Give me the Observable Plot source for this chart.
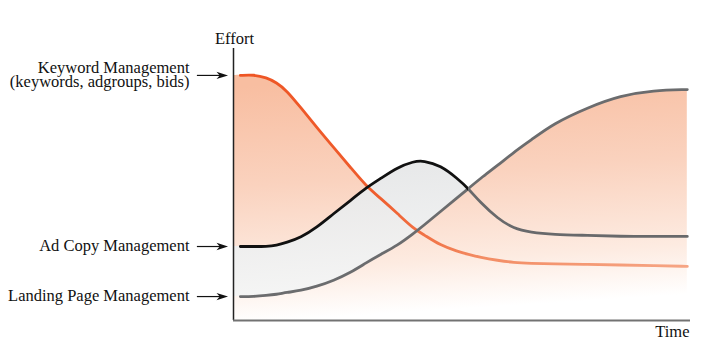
<!DOCTYPE html>
<html>
<head>
<meta charset="utf-8">
<script src="https://cdn.jsdelivr.net/npm/d3@7"></script>
<script src="https://cdn.jsdelivr.net/npm/@observablehq/plot@0.6"></script>
<style>
  html, body { margin: 0; padding: 0; background: #fff; }
  #chart svg { display: block; }
</style>
</head>
<body>
<div id="chart"></div>
<script>
// ---- data (time 0..100, effort 0..100) ----
const time    = [1.5, 4.4, 7.2, 9.4, 11.6, 14.7, 18.2, 21.9, 25.6, 29.1, 32.2, 35.9, 39.4, 41.6, 45.3, 49.0, 51.4, 54.0, 57.8, 61.3, 65.0, 70.0, 77.5, 84.7, 91.9, 99.3];
const keyword = [90.1, 90.4, 89.3, 87.5, 84.6, 78.3, 71.0, 63.6, 56.3, 49.3, 44.9, 39.3, 33.8, 31.6, 27.6, 25.4, 24.3, 23.2, 22.1, 21.3, 21.0, 20.8, 20.6, 20.4, 20.2, 19.9];
const adCopy  = [27.2, 27.2, 27.2, 27.6, 28.7, 30.5, 34.2, 39.3, 44.1, 48.9, 52.2, 56.3, 58.5, 58.8, 57.0, 52.2, 48.5, 43.4, 37.5, 33.8, 32.4, 31.6, 31.3, 30.9, 30.9, 30.9];
const landing = [8.8, 8.8, 9.2, 9.6, 10.3, 11.0, 12.5, 14.7, 17.6, 21.3, 24.3, 27.6, 32.0, 34.9, 40.1, 45.2, 48.5, 52.2, 57.0, 61.8, 66.2, 72.4, 78.3, 82.7, 84.6, 84.9];
const seriesLabels = ["Keyword Management\n(keywords, adgroups, bids)", "Ad Copy Management", "Landing Page Management"];
const axisLabels = {y: "Effort", x: "Time"};

// ---- derived tables ----
const rows = time.map((t, i) => ({time: t, keyword: keyword[i], adCopy: adCopy[i], landing: landing[i]}));
const crossIndex = 16; // where Ad Copy meets Landing Page
const crossTime = time[crossIndex];
const fillRows = [{...rows[0], time: 0}, ...rows].map(d => ({...d, top: Math.max(d.keyword, d.landing)}));
const bandRows = fillRows.filter(d => d.time <= crossTime);
const labelRows = [
  {label: seriesLabels[0], y: keyword[0]},
  {label: seriesLabels[1], y: adCopy[0]},
  {label: seriesLabels[2], y: landing[0]}
];

const arrowHead = {
  draw(context, size) {
    const l = Math.sqrt(size);
    context.moveTo(0, 0);
    context.lineTo(-l, -l * 0.32);
    context.lineTo(-l * 0.72, 0);
    context.lineTo(-l, l * 0.32);
    context.closePath();
  }
};

const font = "Liberation Serif, Times New Roman, serif";
const curve = "basis";

const chart = Plot.plot({
  width: 704,
  height: 355,
  marginLeft: 233,
  marginRight: 14,
  marginTop: 48,
  marginBottom: 35,
  x: {domain: [0, 100], axis: null},
  y: {domain: [0, 100], axis: null},
  style: {background: "#fff", fontFamily: font},
  marks: [
    Plot.areaY(fillRows, {x: "time", y1: 0, y2: "top", fill: "url(#orangeFill)", curve}),
    Plot.areaY(bandRows, {x: "time", y1: "landing", y2: "adCopy", fill: "url(#grayFill)", fillOpacity: 0.95, curve}),
    Plot.line(rows, {x: "time", y: "keyword", stroke: "url(#orangeStroke)", strokeWidth: 2.8, curve}),
    Plot.line(rows, {x: "time", y: "landing", stroke: "#6b6c6e", strokeWidth: 2.8, curve}),
    Plot.line(rows, {x: "time", y: "adCopy", stroke: "url(#adStroke)", strokeWidth: 2.8, curve}),
    Plot.ruleX([0], {y1: 0, y2: 100, stroke: "#222", strokeWidth: 1.5}),
    Plot.ruleY([0], {x1: 0, x2: 100, stroke: "#727272", strokeWidth: 2}),
    Plot.text([axisLabels.y], {x: 0, y: 100, text: d => d, fontSize: 16.5, fontFamily: font, fill: "#111", dy: -10, dx: 1}),
    Plot.text([axisLabels.x], {x: 100, y: 0, text: d => d, fontSize: 16.5, fontFamily: font, fill: "#111", textAnchor: "end", dy: 11, dx: -1}),
    Plot.text(labelRows, {x: 0, y: "y", text: "label", fontSize: 16.5, fontFamily: font, fill: "#111", textAnchor: "end", dx: -44, lineHeight: 0.88}),
    Plot.ruleY(labelRows, {y: "y", x1: -7.9, x2: -2.5, stroke: "#111", strokeWidth: 1.2}),
    Plot.dot(labelRows, {x: -1.2, y: "y", symbol: arrowHead, r: 6.5, fill: "#111", stroke: "none"})
  ]
});

// gradient definitions
const svg = d3.select(chart);
const xPx = chart.scale("x").apply(crossTime);
const defs = svg.insert("defs", ":first-child");
const og = defs.append("linearGradient").attr("id", "orangeFill")
  .attr("x1", 0).attr("y1", 0).attr("x2", 0.12).attr("y2", 1);
og.append("stop").attr("offset", 0.05).attr("stop-color", "#f8bea1");
og.append("stop").attr("offset", 0.45).attr("stop-color", "#fad2be");
og.append("stop").attr("offset", 0.8).attr("stop-color", "#fdebe1");
og.append("stop").attr("offset", 1).attr("stop-color", "#ffffff");
const gg = defs.append("linearGradient").attr("id", "grayFill")
  .attr("x1", 0).attr("y1", 0).attr("x2", 0.15).attr("y2", 1);
gg.append("stop").attr("offset", 0).attr("stop-color", "#e4e5e6");
gg.append("stop").attr("offset", 1).attr("stop-color", "#f4f5f5");
const os = defs.append("linearGradient").attr("id", "orangeStroke")
  .attr("x1", 0).attr("y1", 0).attr("x2", 1).attr("y2", 0);
os.append("stop").attr("offset", 0).attr("stop-color", "#ee5524");
os.append("stop").attr("offset", 0.3).attr("stop-color", "#ef5c2c");
os.append("stop").attr("offset", 0.55).attr("stop-color", "#f38e66");
os.append("stop").attr("offset", 1).attr("stop-color", "#f6a584");
const as = defs.append("linearGradient").attr("id", "adStroke")
  .attr("gradientUnits", "userSpaceOnUse")
  .attr("x1", 0).attr("y1", 0).attr("x2", 704).attr("y2", 0);
as.append("stop").attr("offset", xPx / 704).attr("stop-color", "#111111");
as.append("stop").attr("offset", xPx / 704).attr("stop-color", "#68696b");

document.getElementById("chart").appendChild(chart);
</script>
</body>
</html>
